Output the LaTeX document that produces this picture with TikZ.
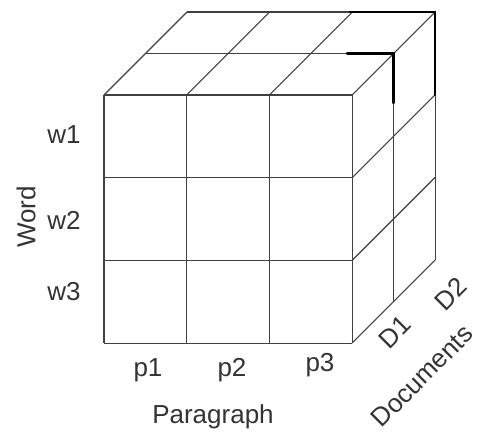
\documentclass[tikz,border=0pt]{standalone}
\usepackage{fontspec}
\setmainfont{Liberation Sans}
\usetikzlibrary{positioning}

\begin{document}
\begin{tikzpicture}[x=1pt,y=-1pt,
  g/.style={line width=1.1pt,draw=black!75},
  k/.style={line width=2.3pt,draw=black,line cap=round},
  lb/.style={font=\fontsize{26}{29}\selectfont,text=black!80,inner sep=0pt}]
  \useasboundingbox (0,0) rectangle (479,435);
  \def\c{82.7}\def\d{41.5}
  % front face
  \foreach \i in {0,...,3}{
    \draw[g] (104+\i*\c,95) -- (104+\i*\c,343.1);
    \draw[g] (104,95+\i*\c) -- (352.1,95+\i*\c);}
  % top face
  \foreach \k in {1,2}
    \draw[g] (104+\k*\d,95-\k*\d) -- (352.1+\k*\d,95-\k*\d);
  \foreach \i in {0,...,3}
    \draw[g] (104+\i*\c,95) -- (104+\i*\c+2*\d,95-2*\d);
  % right face
  \foreach \k in {1,2}
    \draw[g] (352.1+\k*\d,95-\k*\d) -- (352.1+\k*\d,343.1-\k*\d);
  \foreach \j in {1,...,3}
    \draw[g] (352.1,95+\j*\c) -- (352.1+2*\d,95+\j*\c-2*\d);
  % heavy corners
  \draw[k] (347,53.5) -- (393.6,53.5) -- (393.6,103);
  \draw[k] (350,12) -- (435.1,12) -- (435.1,95);
  % labels
  \node[lb] (w1) at (64,135) {w1};
  \node[lb] (w2) at (64,220) {w2};
  \node[lb] (w3) at (64,292) {w3};
  \node[lb,rotate=90] (word) at (26,217) {Word};
  \node[lb] (p1) at (148,370) {p1};
  \node[lb] (p2) at (232,370) {p2};
  \node[lb] (p3) at (320,365) {p3};
  \node[lb] (para) at (213,417) {Paragraph};
  \node[lb,rotate=45] (d1) at (395,332) {D1};
  \node[lb,rotate=45] (d2) at (451,294) {D2};
  \node[lb,rotate=45] (docs) at (422,376) {Documents};
\end{tikzpicture}
\end{document}
